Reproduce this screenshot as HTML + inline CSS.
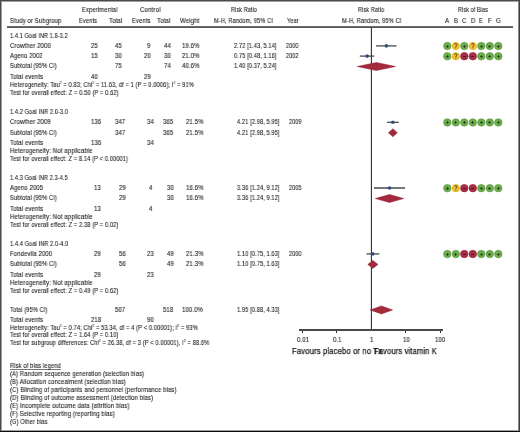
<!DOCTYPE html>
<html><head><meta charset="utf-8"><style>
html,body{margin:0;padding:0;background:#fff}
#pg{position:relative;width:520px;height:432px;overflow:hidden;background:#ffffff;font-family:"Liberation Sans",sans-serif;font-size:6.5px;line-height:8px;color:#1a1a1a}
.t{position:absolute;white-space:nowrap;transform-origin:0 0;will-change:transform;-webkit-text-stroke:0.1px #1a1a1a;letter-spacing:0.15px}
.r{position:absolute}
sup{font-size:3.6px;vertical-align:0;position:relative;top:-2.6px}
u{text-decoration-thickness:0.6px;text-underline-offset:0.7px;text-decoration-color:#777}
.bd{position:absolute;left:0;top:0;width:520px;height:432px;box-sizing:border-box;border-style:solid;border-color:#474747;border-width:1px 1px 1.5px 1px}
.bd2{position:absolute;left:1px;top:1px;width:518px;height:429.5px;box-sizing:border-box;border:1px solid #9a9a9a}
</style></head><body><div id="pg">
<svg width="520" height="432" style="position:absolute;left:0;top:0"><rect x="7" y="26.3" width="506" height="1.5" fill="#2e2e2e"/><line x1="371.4" y1="27.5" x2="371.4" y2="329.90000000000003" stroke="#262626" stroke-width="1.05"/><line x1="376.74" y1="45.90" x2="395.86" y2="45.90" stroke="#4a4a4a" stroke-width="1.3" stroke-linecap="square"/><rect x="384.80" y="44.35" width="3.1" height="3.1" rx="0.9" fill="#2a4a7e"/><circle cx="447.30" cy="46.05" r="3.75" fill="#6cac4c" stroke="#58993d" stroke-width="0.6"/><path d="M446.10 46.50H448.90M447.50 45.10V47.90" stroke="#26341f" stroke-width="0.8"/><circle cx="455.80" cy="46.05" r="3.75" fill="#f1bf33" stroke="#e3ad22" stroke-width="0.6"/><path d="M454.70 44.55C454.70 43.15 456.95 43.15 456.95 44.55C456.95 45.55 455.80 45.55 455.80 46.75" fill="none" stroke="#3a2c0c" stroke-width="0.8"/><circle cx="455.80" cy="47.80" r="0.5" fill="#3a2c0c"/><circle cx="464.30" cy="46.05" r="3.75" fill="#6cac4c" stroke="#58993d" stroke-width="0.6"/><path d="M463.10 46.50H465.90M464.50 45.10V47.90" stroke="#26341f" stroke-width="0.8"/><circle cx="472.80" cy="46.05" r="3.75" fill="#f1bf33" stroke="#e3ad22" stroke-width="0.6"/><path d="M471.70 44.55C471.70 43.15 473.95 43.15 473.95 44.55C473.95 45.55 472.80 45.55 472.80 46.75" fill="none" stroke="#3a2c0c" stroke-width="0.8"/><circle cx="472.80" cy="47.80" r="0.5" fill="#3a2c0c"/><circle cx="481.30" cy="46.05" r="3.75" fill="#6cac4c" stroke="#58993d" stroke-width="0.6"/><path d="M480.10 46.50H482.90M481.50 45.10V47.90" stroke="#26341f" stroke-width="0.8"/><circle cx="489.80" cy="46.05" r="3.75" fill="#6cac4c" stroke="#58993d" stroke-width="0.6"/><path d="M488.10 46.50H490.90M489.50 45.10V47.90" stroke="#26341f" stroke-width="0.8"/><circle cx="498.30" cy="46.05" r="3.75" fill="#6cac4c" stroke="#58993d" stroke-width="0.6"/><path d="M497.10 46.50H499.90M498.50 45.10V47.90" stroke="#26341f" stroke-width="0.8"/><line x1="360.43" y1="56.10" x2="373.62" y2="56.10" stroke="#4a4a4a" stroke-width="1.3" stroke-linecap="square"/><rect x="365.55" y="54.55" width="3.1" height="3.1" rx="0.9" fill="#2a4a7e"/><circle cx="447.30" cy="56.25" r="3.75" fill="#6cac4c" stroke="#58993d" stroke-width="0.6"/><path d="M446.10 56.50H448.90M447.50 55.10V57.90" stroke="#26341f" stroke-width="0.8"/><circle cx="455.80" cy="56.25" r="3.75" fill="#f1bf33" stroke="#e3ad22" stroke-width="0.6"/><path d="M454.70 54.75C454.70 53.35 456.95 53.35 456.95 54.75C456.95 55.75 455.80 55.75 455.80 56.95" fill="none" stroke="#3a2c0c" stroke-width="0.8"/><circle cx="455.80" cy="58.00" r="0.5" fill="#3a2c0c"/><circle cx="464.30" cy="56.25" r="3.75" fill="#a52f45" stroke="#96162e" stroke-width="0.6"/><path d="M463.00 56.50H466.00" stroke="#3b1c22" stroke-width="0.9"/><circle cx="472.80" cy="56.25" r="3.75" fill="#a52f45" stroke="#96162e" stroke-width="0.6"/><path d="M471.00 56.50H474.00" stroke="#3b1c22" stroke-width="0.9"/><circle cx="481.30" cy="56.25" r="3.75" fill="#6cac4c" stroke="#58993d" stroke-width="0.6"/><path d="M480.10 56.50H482.90M481.50 55.10V57.90" stroke="#26341f" stroke-width="0.8"/><circle cx="489.80" cy="56.25" r="3.75" fill="#6cac4c" stroke="#58993d" stroke-width="0.6"/><path d="M488.10 56.50H490.90M489.50 55.10V57.90" stroke="#26341f" stroke-width="0.8"/><circle cx="498.30" cy="56.25" r="3.75" fill="#6cac4c" stroke="#58993d" stroke-width="0.6"/><path d="M497.10 56.50H499.90M498.50 55.10V57.90" stroke="#26341f" stroke-width="0.8"/><line x1="387.71" y1="122.30" x2="398.04" y2="122.30" stroke="#4a4a4a" stroke-width="1.3" stroke-linecap="square"/><rect x="391.33" y="120.75" width="3.1" height="3.1" rx="0.9" fill="#2a4a7e"/><circle cx="447.30" cy="122.45" r="3.75" fill="#6cac4c" stroke="#58993d" stroke-width="0.6"/><path d="M446.10 122.50H448.90M447.50 121.10V123.90" stroke="#26341f" stroke-width="0.8"/><circle cx="455.80" cy="122.45" r="3.75" fill="#6cac4c" stroke="#58993d" stroke-width="0.6"/><path d="M454.10 122.50H456.90M455.50 121.10V123.90" stroke="#26341f" stroke-width="0.8"/><circle cx="464.30" cy="122.45" r="3.75" fill="#6cac4c" stroke="#58993d" stroke-width="0.6"/><path d="M463.10 122.50H465.90M464.50 121.10V123.90" stroke="#26341f" stroke-width="0.8"/><circle cx="472.80" cy="122.45" r="3.75" fill="#6cac4c" stroke="#58993d" stroke-width="0.6"/><path d="M471.10 122.50H473.90M472.50 121.10V123.90" stroke="#26341f" stroke-width="0.8"/><circle cx="481.30" cy="122.45" r="3.75" fill="#6cac4c" stroke="#58993d" stroke-width="0.6"/><path d="M480.10 122.50H482.90M481.50 121.10V123.90" stroke="#26341f" stroke-width="0.8"/><circle cx="489.80" cy="122.45" r="3.75" fill="#6cac4c" stroke="#58993d" stroke-width="0.6"/><path d="M488.10 122.50H490.90M489.50 121.10V123.90" stroke="#26341f" stroke-width="0.8"/><circle cx="498.30" cy="122.45" r="3.75" fill="#6cac4c" stroke="#58993d" stroke-width="0.6"/><path d="M497.10 122.50H499.90M498.50 121.10V123.90" stroke="#26341f" stroke-width="0.8"/><line x1="374.61" y1="188.00" x2="404.42" y2="188.00" stroke="#4a4a4a" stroke-width="1.3" stroke-linecap="square"/><rect x="387.96" y="186.45" width="3.1" height="3.1" rx="0.9" fill="#2a4a7e"/><circle cx="447.30" cy="188.15" r="3.75" fill="#6cac4c" stroke="#58993d" stroke-width="0.6"/><path d="M446.10 188.50H448.90M447.50 187.10V189.90" stroke="#26341f" stroke-width="0.8"/><circle cx="455.80" cy="188.15" r="3.75" fill="#f1bf33" stroke="#e3ad22" stroke-width="0.6"/><path d="M454.70 186.65C454.70 185.25 456.95 185.25 456.95 186.65C456.95 187.65 455.80 187.65 455.80 188.85" fill="none" stroke="#3a2c0c" stroke-width="0.8"/><circle cx="455.80" cy="189.90" r="0.5" fill="#3a2c0c"/><circle cx="464.30" cy="188.15" r="3.75" fill="#a52f45" stroke="#96162e" stroke-width="0.6"/><path d="M463.00 188.50H466.00" stroke="#3b1c22" stroke-width="0.9"/><circle cx="472.80" cy="188.15" r="3.75" fill="#a52f45" stroke="#96162e" stroke-width="0.6"/><path d="M471.00 188.50H474.00" stroke="#3b1c22" stroke-width="0.9"/><circle cx="481.30" cy="188.15" r="3.75" fill="#6cac4c" stroke="#58993d" stroke-width="0.6"/><path d="M480.10 188.50H482.90M481.50 187.10V189.90" stroke="#26341f" stroke-width="0.8"/><circle cx="489.80" cy="188.15" r="3.75" fill="#6cac4c" stroke="#58993d" stroke-width="0.6"/><path d="M488.10 188.50H490.90M489.50 187.10V189.90" stroke="#26341f" stroke-width="0.8"/><circle cx="498.30" cy="188.15" r="3.75" fill="#6cac4c" stroke="#58993d" stroke-width="0.6"/><path d="M497.10 188.50H499.90M498.50 187.10V189.90" stroke="#26341f" stroke-width="0.8"/><line x1="367.10" y1="253.90" x2="378.70" y2="253.90" stroke="#4a4a4a" stroke-width="1.3" stroke-linecap="square"/><rect x="371.27" y="252.35" width="3.1" height="3.1" rx="0.9" fill="#2a4a7e"/><circle cx="447.30" cy="254.05" r="3.75" fill="#6cac4c" stroke="#58993d" stroke-width="0.6"/><path d="M446.10 254.50H448.90M447.50 253.10V255.90" stroke="#26341f" stroke-width="0.8"/><circle cx="455.80" cy="254.05" r="3.75" fill="#6cac4c" stroke="#58993d" stroke-width="0.6"/><path d="M454.10 254.50H456.90M455.50 253.10V255.90" stroke="#26341f" stroke-width="0.8"/><circle cx="464.30" cy="254.05" r="3.75" fill="#a52f45" stroke="#96162e" stroke-width="0.6"/><path d="M463.00 254.50H466.00" stroke="#3b1c22" stroke-width="0.9"/><circle cx="472.80" cy="254.05" r="3.75" fill="#a52f45" stroke="#96162e" stroke-width="0.6"/><path d="M471.00 254.50H474.00" stroke="#3b1c22" stroke-width="0.9"/><circle cx="481.30" cy="254.05" r="3.75" fill="#6cac4c" stroke="#58993d" stroke-width="0.6"/><path d="M480.10 254.50H482.90M481.50 253.10V255.90" stroke="#26341f" stroke-width="0.8"/><circle cx="489.80" cy="254.05" r="3.75" fill="#6cac4c" stroke="#58993d" stroke-width="0.6"/><path d="M488.10 254.50H490.90M489.50 253.10V255.90" stroke="#26341f" stroke-width="0.8"/><circle cx="498.30" cy="254.05" r="3.75" fill="#6cac4c" stroke="#58993d" stroke-width="0.6"/><path d="M497.10 254.50H499.90M498.50 253.10V255.90" stroke="#26341f" stroke-width="0.8"/><polygon points="357.25,66.50 376.43,62.50 395.44,66.50 376.43,70.50" fill="#a12a3c" stroke="#9a1a2e" stroke-width="0.5"/><polygon points="388.41,132.70 392.88,128.70 397.34,132.70 392.88,136.70" fill="#a12a3c" stroke="#9a1a2e" stroke-width="0.5"/><polygon points="375.31,198.50 389.51,194.50 403.72,198.50 389.51,202.50" fill="#a12a3c" stroke="#9a1a2e" stroke-width="0.5"/><polygon points="367.80,264.40 372.82,260.40 378.00,264.40 372.82,268.40" fill="#a12a3c" stroke="#9a1a2e" stroke-width="0.5"/><polygon points="370.19,309.90 381.38,305.90 392.60,309.90 381.38,313.90" fill="#a12a3c" stroke="#9a1a2e" stroke-width="0.5"/></svg>
<div class="r" style="left:299.3px;top:329px;width:143.7px;height:2px;background:#4a4a4a"></div>
<div class="r" style="left:302px;top:331px;width:1px;height:2.3px;background:#333"></div>
<div class="r" style="left:336px;top:331px;width:1px;height:2.3px;background:#333"></div>
<div class="r" style="left:405px;top:331px;width:1px;height:2.3px;background:#333"></div>
<div class="r" style="left:440px;top:331px;width:1px;height:2.3px;background:#333"></div>
<div class="t" style="left:82.10px;top:6.00px;transform:scaleX(0.8925)">Experimental</div>
<div class="t" style="left:140.20px;top:6.00px;transform:scaleX(0.9364)">Control</div>
<div class="t" style="left:230.75px;top:6.00px;transform:scaleX(0.8387)">Risk Ratio</div>
<div class="t" style="left:358.00px;top:6.00px;transform:scaleX(0.8468)">Risk Ratio</div>
<div class="t" style="left:457.90px;top:6.00px;transform:scaleX(0.8306)">Risk of Bias</div>
<div class="t" style="left:10.10px;top:17.00px;transform:scaleX(0.9061)">Study or Subgroup</div>
<div class="t" style="left:79.30px;top:17.00px;transform:scaleX(0.8750)">Events</div>
<div class="t" style="left:108.90px;top:17.00px;transform:scaleX(0.9286)">Total</div>
<div class="t" style="left:131.90px;top:17.00px;transform:scaleX(0.8950)">Events</div>
<div class="t" style="left:156.90px;top:17.00px;transform:scaleX(0.9357)">Total</div>
<div class="t" style="left:180.00px;top:17.00px;transform:scaleX(0.9286)">Weight</div>
<div class="t" style="left:214.25px;top:17.00px;transform:scaleX(0.8640)">M-H, Random, 95% CI</div>
<div class="t" style="left:287.00px;top:17.00px;transform:scaleX(0.8393)">Year</div>
<div class="t" style="left:342.00px;top:17.00px;transform:scaleX(0.8713)">M-H, Random, 95% CI</div>
<div class="t" style="left:445.01px;top:17.00px;transform:scaleX(0.9150)">A</div>
<div class="t" style="left:453.97px;top:17.00px;transform:scaleX(0.9150)">B</div>
<div class="t" style="left:462.01px;top:17.00px;transform:scaleX(0.9150)">C</div>
<div class="t" style="left:470.51px;top:17.00px;transform:scaleX(0.9150)">D</div>
<div class="t" style="left:479.47px;top:17.00px;transform:scaleX(0.9150)">E</div>
<div class="t" style="left:487.97px;top:17.00px;transform:scaleX(0.9150)">F</div>
<div class="t" style="left:496.01px;top:17.00px;transform:scaleX(0.9150)">G</div>
<div class="t" style="left:10.00px;top:31.80px;transform:scaleX(0.8456)">1.4.1 Goal INR 1.8-3.2</div>
<div class="t" style="left:10.30px;top:42.00px;transform:scaleX(0.9205)">Crowther 2000</div>
<div class="t" style="left:90.50px;top:42.00px;transform:scaleX(0.9150)">25</div>
<div class="t" style="left:114.89px;top:42.00px;transform:scaleX(0.9150)">45</div>
<div class="t" style="left:146.64px;top:42.00px;transform:scaleX(0.9150)">9</div>
<div class="t" style="left:163.59px;top:42.00px;transform:scaleX(0.9150)">44</div>
<div class="t" style="left:182.42px;top:42.00px;transform:scaleX(0.9150)">19.6%</div>
<div class="t" style="left:233.50px;top:42.00px;transform:scaleX(0.8612)">2.72 [1.43, 5.14]</div>
<div class="t" style="left:286.30px;top:42.00px;transform:scaleX(0.8333)">2000</div>
<div class="t" style="left:10.30px;top:52.20px;transform:scaleX(0.8944)">Ageno 2002</div>
<div class="t" style="left:90.50px;top:52.20px;transform:scaleX(0.9150)">15</div>
<div class="t" style="left:114.89px;top:52.20px;transform:scaleX(0.9150)">30</div>
<div class="t" style="left:143.90px;top:52.20px;transform:scaleX(0.9150)">20</div>
<div class="t" style="left:163.59px;top:52.20px;transform:scaleX(0.9150)">30</div>
<div class="t" style="left:182.42px;top:52.20px;transform:scaleX(0.9150)">21.0%</div>
<div class="t" style="left:233.50px;top:52.20px;transform:scaleX(0.8612)">0.75 [0.48, 1.16]</div>
<div class="t" style="left:286.30px;top:52.20px;transform:scaleX(0.8333)">2002</div>
<div class="t" style="left:10.30px;top:62.40px;transform:scaleX(0.8704)">Subtotal (95% CI)</div>
<div class="t" style="left:114.89px;top:62.40px;transform:scaleX(0.9150)">75</div>
<div class="t" style="left:163.59px;top:62.40px;transform:scaleX(0.9150)">74</div>
<div class="t" style="left:182.42px;top:62.40px;transform:scaleX(0.9150)">40.6%</div>
<div class="t" style="left:233.50px;top:62.40px;transform:scaleX(0.8612)">1.40 [0.37, 5.24]</div>
<div class="t" style="left:10.30px;top:72.90px;transform:scaleX(0.9111)">Total events</div>
<div class="t" style="left:90.50px;top:72.90px;transform:scaleX(0.9150)">40</div>
<div class="t" style="left:143.90px;top:72.90px;transform:scaleX(0.9150)">29</div>
<div class="t" style="left:10.30px;top:80.70px;transform:scaleX(0.8706)">Heterogeneity: Tau<sup>2</sup> = 0.83; Chi<sup>2</sup> = 11.63, df = 1 (P = 0.0006); I<sup>2</sup> = 91%</div>
<div class="t" style="left:10.30px;top:88.50px;transform:scaleX(0.8726)">Test for overall effect: Z = 0.50 (P = 0.62)</div>
<div class="t" style="left:10.00px;top:108.20px;transform:scaleX(0.8500)">1.4.2 Goal INR 2.0-3.0</div>
<div class="t" style="left:10.30px;top:118.40px;transform:scaleX(0.9159)">Crowther 2009</div>
<div class="t" style="left:90.64px;top:118.40px;transform:scaleX(0.9150)">136</div>
<div class="t" style="left:115.34px;top:118.40px;transform:scaleX(0.9150)">347</div>
<div class="t" style="left:146.59px;top:118.40px;transform:scaleX(0.9150)">34</div>
<div class="t" style="left:163.44px;top:118.40px;transform:scaleX(0.9150)">365</div>
<div class="t" style="left:185.92px;top:118.40px;transform:scaleX(0.9150)">21.5%</div>
<div class="t" style="left:236.60px;top:118.40px;transform:scaleX(0.8612)">4.21 [2.98, 5.95]</div>
<div class="t" style="left:289.30px;top:118.40px;transform:scaleX(0.8333)">2009</div>
<div class="t" style="left:10.30px;top:128.60px;transform:scaleX(0.8722)">Subtotal (95% CI)</div>
<div class="t" style="left:115.34px;top:128.60px;transform:scaleX(0.9150)">347</div>
<div class="t" style="left:163.44px;top:128.60px;transform:scaleX(0.9150)">365</div>
<div class="t" style="left:185.92px;top:128.60px;transform:scaleX(0.9150)">21.5%</div>
<div class="t" style="left:236.60px;top:128.60px;transform:scaleX(0.8612)">4.21 [2.98, 5.95]</div>
<div class="t" style="left:10.30px;top:138.80px;transform:scaleX(0.9111)">Total events</div>
<div class="t" style="left:90.64px;top:138.80px;transform:scaleX(0.9150)">136</div>
<div class="t" style="left:146.59px;top:138.80px;transform:scaleX(0.9150)">34</div>
<div class="t" style="left:10.30px;top:146.90px;transform:scaleX(0.9236)">Heterogeneity: Not applicable</div>
<div class="t" style="left:10.30px;top:154.60px;transform:scaleX(0.8691)">Test for overall effect: Z = 8.14 (P &lt; 0.00001)</div>
<div class="t" style="left:10.00px;top:173.90px;transform:scaleX(0.8456)">1.4.3 Goal INR 2.3-4.5</div>
<div class="t" style="left:10.30px;top:184.10px;transform:scaleX(0.9083)">Ageno 2005</div>
<div class="t" style="left:94.30px;top:184.10px;transform:scaleX(0.9150)">13</div>
<div class="t" style="left:119.00px;top:184.10px;transform:scaleX(0.9150)">29</div>
<div class="t" style="left:149.34px;top:184.10px;transform:scaleX(0.9150)">4</div>
<div class="t" style="left:167.09px;top:184.10px;transform:scaleX(0.9150)">30</div>
<div class="t" style="left:185.92px;top:184.10px;transform:scaleX(0.9150)">16.6%</div>
<div class="t" style="left:236.60px;top:184.10px;transform:scaleX(0.8612)">3.36 [1.24, 9.12]</div>
<div class="t" style="left:289.30px;top:184.10px;transform:scaleX(0.8333)">2005</div>
<div class="t" style="left:10.30px;top:194.40px;transform:scaleX(0.8722)">Subtotal (95% CI)</div>
<div class="t" style="left:119.00px;top:194.40px;transform:scaleX(0.9150)">29</div>
<div class="t" style="left:167.09px;top:194.40px;transform:scaleX(0.9150)">30</div>
<div class="t" style="left:185.92px;top:194.40px;transform:scaleX(0.9150)">16.6%</div>
<div class="t" style="left:236.60px;top:194.40px;transform:scaleX(0.8612)">3.36 [1.24, 9.12]</div>
<div class="t" style="left:10.30px;top:204.70px;transform:scaleX(0.9111)">Total events</div>
<div class="t" style="left:94.30px;top:204.70px;transform:scaleX(0.9150)">13</div>
<div class="t" style="left:149.34px;top:204.70px;transform:scaleX(0.9150)">4</div>
<div class="t" style="left:10.30px;top:212.90px;transform:scaleX(0.9236)">Heterogeneity: Not applicable</div>
<div class="t" style="left:10.30px;top:220.70px;transform:scaleX(0.8710)">Test for overall effect: Z = 2.38 (P = 0.02)</div>
<div class="t" style="left:10.00px;top:239.80px;transform:scaleX(0.8529)">1.4.4 Goal INR 2.0-4.0</div>
<div class="t" style="left:10.30px;top:250.00px;transform:scaleX(0.9065)">Fondevila 2000</div>
<div class="t" style="left:94.30px;top:250.00px;transform:scaleX(0.9150)">29</div>
<div class="t" style="left:119.00px;top:250.00px;transform:scaleX(0.9150)">56</div>
<div class="t" style="left:146.59px;top:250.00px;transform:scaleX(0.9150)">23</div>
<div class="t" style="left:167.09px;top:250.00px;transform:scaleX(0.9150)">49</div>
<div class="t" style="left:185.92px;top:250.00px;transform:scaleX(0.9150)">21.3%</div>
<div class="t" style="left:236.60px;top:250.00px;transform:scaleX(0.8612)">1.10 [0.75, 1.63]</div>
<div class="t" style="left:289.30px;top:250.00px;transform:scaleX(0.8333)">2000</div>
<div class="t" style="left:10.30px;top:260.30px;transform:scaleX(0.8722)">Subtotal (95% CI)</div>
<div class="t" style="left:119.00px;top:260.30px;transform:scaleX(0.9150)">56</div>
<div class="t" style="left:167.09px;top:260.30px;transform:scaleX(0.9150)">49</div>
<div class="t" style="left:185.92px;top:260.30px;transform:scaleX(0.9150)">21.3%</div>
<div class="t" style="left:236.60px;top:260.30px;transform:scaleX(0.8612)">1.10 [0.75, 1.63]</div>
<div class="t" style="left:10.30px;top:270.60px;transform:scaleX(0.9111)">Total events</div>
<div class="t" style="left:94.30px;top:270.60px;transform:scaleX(0.9150)">29</div>
<div class="t" style="left:146.59px;top:270.60px;transform:scaleX(0.9150)">23</div>
<div class="t" style="left:10.30px;top:278.80px;transform:scaleX(0.9236)">Heterogeneity: Not applicable</div>
<div class="t" style="left:10.30px;top:286.80px;transform:scaleX(0.8710)">Test for overall effect: Z = 0.49 (P = 0.62)</div>
<div class="t" style="left:10.30px;top:305.80px;transform:scaleX(0.8651)">Total (95% CI)</div>
<div class="t" style="left:115.34px;top:305.80px;transform:scaleX(0.9150)">507</div>
<div class="t" style="left:163.44px;top:305.80px;transform:scaleX(0.9150)">518</div>
<div class="t" style="left:182.25px;top:305.80px;transform:scaleX(0.9150)">100.0%</div>
<div class="t" style="left:236.60px;top:305.80px;transform:scaleX(0.8612)">1.95 [0.88, 4.33]</div>
<div class="t" style="left:10.30px;top:315.80px;transform:scaleX(0.9111)">Total events</div>
<div class="t" style="left:90.64px;top:315.80px;transform:scaleX(0.9150)">218</div>
<div class="t" style="left:146.59px;top:315.80px;transform:scaleX(0.9150)">90</div>
<div class="t" style="left:10.30px;top:323.50px;transform:scaleX(0.8716)">Heterogeneity: Tau<sup>2</sup> = 0.74; Chi<sup>2</sup> = 53.34, df = 4 (P &lt; 0.00001); I<sup>2</sup> = 93%</div>
<div class="t" style="left:10.30px;top:331.40px;transform:scaleX(0.8710)">Test for overall effect: Z = 1.64 (P = 0.10)</div>
<div class="t" style="left:10.30px;top:339.30px;transform:scaleX(0.8707)">Test for subgroup differences: Chi<sup>2</sup> = 26.38, df = 3 (P &lt; 0.00001), I<sup>2</sup> = 88.6%</div>
<div class="t" style="left:296.65px;top:335.80px;transform:scaleX(0.9150)">0.01</div>
<div class="t" style="left:332.88px;top:335.80px;transform:scaleX(0.9150)">0.1</div>
<div class="t" style="left:370.03px;top:335.80px;transform:scaleX(0.9150)">1</div>
<div class="t" style="left:402.60px;top:335.80px;transform:scaleX(0.9150)">10</div>
<div class="t" style="left:435.17px;top:335.80px;transform:scaleX(0.9150)">100</div>
<div class="t" style="left:291.90px;top:346.00px;transform:scaleX(0.8728);font-size:8.8px;line-height:10px;-webkit-text-stroke:0.25px #1a1a1a">Favours placebo or no Tx</div>
<div class="t" style="left:374.40px;top:346.00px;transform:scaleX(0.8616);font-size:8.8px;line-height:10px;-webkit-text-stroke:0.25px #1a1a1a">Favours vitamin K</div>
<div class="t" style="left:10.20px;top:362.00px;transform:scaleX(0.8802)"><u>Risk of bias legend</u></div>
<div class="t" style="left:10.20px;top:370.00px;transform:scaleX(0.8940)">(A) Random sequence generation (selection bias)</div>
<div class="t" style="left:10.20px;top:378.00px;transform:scaleX(0.8992)">(B) Allocation concealment (selection bias)</div>
<div class="t" style="left:10.20px;top:386.00px;transform:scaleX(0.9011)">(C) Blinding of participants and personnel (performance bias)</div>
<div class="t" style="left:10.20px;top:394.00px;transform:scaleX(0.9044)">(D) Blinding of outcome assessment (detection bias)</div>
<div class="t" style="left:10.20px;top:402.00px;transform:scaleX(0.9107)">(E) Incomplete outcome data (attrition bias)</div>
<div class="t" style="left:10.20px;top:410.00px;transform:scaleX(0.9078)">(F) Selective reporting (reporting bias)</div>
<div class="t" style="left:10.20px;top:418.00px;transform:scaleX(0.8674)">(G) Other bias</div>
<div class="r" style="left:0;top:0;width:520px;height:1px;background:#4b4b4b"></div>
<div class="r" style="left:1px;top:1px;width:517px;height:1px;background:#a0a0a0"></div>
<div class="r" style="left:0;top:0;width:1px;height:432px;background:#4b4b4b"></div>
<div class="r" style="left:1px;top:1px;width:1px;height:429px;background:#a0a0a0"></div>
<div class="r" style="left:519px;top:0;width:1px;height:432px;background:#3e3e3e"></div>
<div class="r" style="left:518px;top:1px;width:1px;height:430px;background:#8a8a8a"></div>
<div class="r" style="left:1px;top:430px;width:518px;height:1px;background:#a0a0a0"></div>
<div class="r" style="left:0;top:431px;width:520px;height:1px;background:#0d0d0d"></div>
</div></body></html>
